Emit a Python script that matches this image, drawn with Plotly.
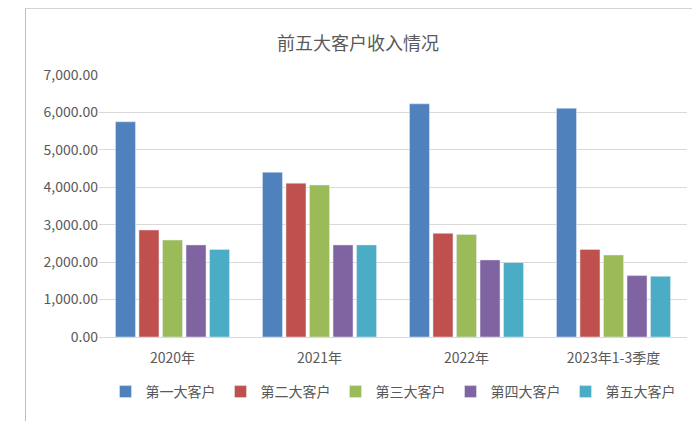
import plotly.graph_objects as go

categories = ["2020年", "2021年", "2022年", "2023年1-3季度"]
series_names = ["第一大客户", "第二大客户", "第三大客户", "第四大客户", "第五大客户"]
customer1 = [5750, 4400, 6230, 6110]
customer2 = [2860, 4110, 2770, 2340]
customer3 = [2590, 4060, 2740, 2190]
customer4 = [2460, 2460, 2060, 1640]
customer5 = [2340, 2460, 1990, 1620]
colors = ["#4f81bd", "#c0504d", "#9bbb59", "#8064a2", "#4bacc6"]

fig = go.Figure()
for name, vals, c in zip(series_names, [customer1, customer2, customer3, customer4, customer5], colors):
    fig.add_trace(go.Bar(x=categories, y=vals, name=name, marker_color=c))

fig.update_layout(
    width=700, height=421,
    font=dict(family="Noto Sans CJK SC", size=14, color="#595959"),
    title=dict(text="前五大客户收入情况", x=0.5, y=0.93, xanchor="center",
               font=dict(size=18, color="#595959")),
    paper_bgcolor="white", plot_bgcolor="white",
    barmode="group", bargap=0.2, bargroupgap=0.15,
    margin=dict(l=91, r=21, t=67, b=92),
    legend=dict(orientation="h", x=0.5, xanchor="center", y=-0.21, yanchor="middle",
                font=dict(size=14), itemwidth=30, tracegroupgap=0),
    yaxis=dict(range=[0, 7000], dtick=1000, tickformat=",.2f", gridcolor="#d9d9d9",
               zeroline=False, ticks="", tickfont=dict(size=14)),
    xaxis=dict(showline=True, linecolor="#d9d9d9", tickfont=dict(size=14),
               ticklabelstandoff=8),
    shapes=[dict(type="rect", xref="paper", yref="paper", x0=-0.125, x1=1.03,
                 y0=-0.355, y1=1.255, line=dict(color="#bfbfbf", width=1))],
)
fig.write_html("out.html")
